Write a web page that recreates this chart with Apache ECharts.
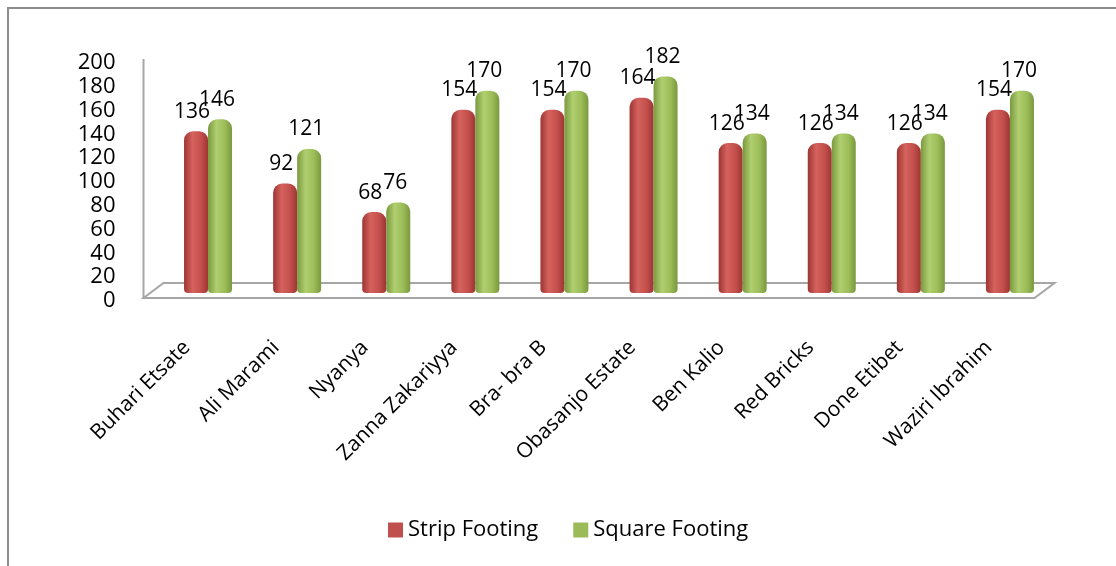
<!DOCTYPE html>
<html>
<head>
<meta charset="utf-8">
<script src="https://cdn.jsdelivr.net/npm/echarts@6/dist/echarts.min.js"></script>
<style>
  html, body { margin: 0; padding: 0; background: #fff; }
  #chart { width: 1116px; height: 566px; }
</style>
</head>
<body>
<div id="chart"></div>
<script>
// data
const categories = ['Buhari Etsate', 'Ali Marami', 'Nyanya', 'Zanna Zakariyya', 'Bra- bra B',
  'Obasanjo Estate', 'Ben Kalio', 'Red Bricks', 'Done Etibet', 'Waziri Ibrahim'];
const stripFooting = [136, 92, 68, 154, 154, 164, 126, 126, 126, 154];
const squareFooting = [146, 121, 76, 170, 170, 182, 134, 134, 134, 170];
const yMin = 0;
const yMax = 200;
const yStep = 20;

const FONT = 'Open Sans';
const W = 1116, H = 566;
const gridLeft = 163.5, gridRight = 61.5, gridTop = 55, gridBottom = 273;

// cylinder-ish shading
const cyl = (dark, mid, light) => new echarts.graphic.LinearGradient(0, 0, 1, 0, [
  { offset: 0, color: dark },
  { offset: 0.35, color: light },
  { offset: 0.7, color: mid },
  { offset: 1, color: dark }
]);

const chart = echarts.init(document.getElementById('chart'));

// 3D floor + wall edge, placed from the grid box
const gx0 = gridLeft, gx1 = W - gridRight, gy1 = H - gridBottom;
const floorBack = gy1 - 10, floorFront = gy1 + 5, skew = 20;

chart.setOption({
  animation: false,
  textStyle: { fontFamily: FONT },
  color: ['#c0504d', '#9bbb59'],
  graphic: [
    { type: 'polyline', z: 0, shape: { points: [[8, H + 5], [8, 8], [W + 5, 8]] },
      style: { stroke: '#8c8c8c', lineWidth: 2, fill: null } },
    { type: 'polygon', z: 0,
      shape: { points: [[gx0 - skew, floorFront], [gx0, floorBack], [gx1, floorBack], [gx1 - skew, floorFront]] },
      style: { fill: '#fff', stroke: '#a6a6a6', lineWidth: 2 } },
    { type: 'line', z: 0, shape: { x1: gx0 - skew, y1: gridTop + 4, x2: gx0 - skew, y2: floorFront },
      style: { stroke: '#a6a6a6', lineWidth: 2 } }
  ],
  legend: {
    left: 383,
    top: 514,
    itemWidth: 15,
    itemHeight: 15,
    itemGap: 35,
    icon: 'rect',
    textStyle: { fontFamily: FONT, fontSize: 22, color: '#000' },
    data: [
      { name: 'Strip Footing', itemStyle: { color: '#c0504d' } },
      { name: 'Square Footing', itemStyle: { color: '#9bbb59' } }
    ]
  },
  grid: { left: gridLeft, right: gridRight, top: gridTop, bottom: gridBottom, containLabel: false },
  xAxis: {
    type: 'category',
    data: categories,
    axisLine: { show: false },
    axisTick: { show: false },
    axisLabel: {
      interval: 0,
      rotate: 45,
      margin: 30,
      padding: [0, 30, 0, 0],
      fontFamily: FONT,
      fontSize: 21,
      color: '#000'
    }
  },
  yAxis: {
    type: 'value',
    min: yMin,
    max: yMax,
    interval: yStep,
    axisLine: { show: false },
    axisTick: { show: false },
    splitLine: { show: false },
    axisLabel: {
      margin: 48,
      formatter: '{a|{value}}',
      rich: { a: { fontFamily: FONT, fontSize: 22, color: '#000', padding: [16, 0, 0, 0] } }
    }
  },
  series: [
    {
      name: 'Strip Footing',
      type: 'bar',
      data: stripFooting,
      barWidth: 24,
      barGap: '0%',
      itemStyle: { color: cyl('#9c3532', '#c4504d', '#d6625e'), borderRadius: [9, 9, 4, 4] },
      label: { show: true, position: 'top', distance: 9, fontFamily: FONT, fontSize: 21, color: '#000', offset: [-4, 0] }
    },
    {
      name: 'Square Footing',
      type: 'bar',
      data: squareFooting,
      barWidth: 24,
      itemStyle: { color: cyl('#7a983e', '#9cbd58', '#b0cf70'), borderRadius: [9, 9, 4, 4] },
      label: { show: true, position: 'top', distance: 9, fontFamily: FONT, fontSize: 21, color: '#000', offset: [-3, 0] }
    }
  ]
});
</script>
</body>
</html>
